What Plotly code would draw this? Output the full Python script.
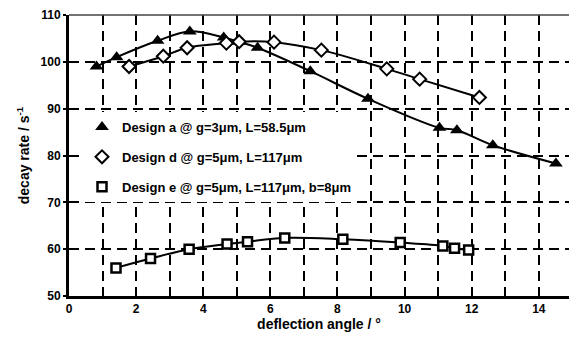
import plotly.graph_objects as go

# Design a (filled triangles)
a_x = [0.82, 1.42, 2.64, 3.6, 4.61, 5.06, 5.62, 7.19, 8.91, 11.04, 11.56, 12.63, 14.51]
a_y = [99.0, 101.0, 104.5, 106.5, 105.2, 104.3, 103.0, 98.0, 92.1, 85.9, 85.4, 82.2, 78.3]
# Design d (open diamonds)
d_x = [1.79, 2.81, 3.52, 4.69, 5.07, 6.11, 7.52, 9.47, 10.45, 12.23]
d_y = [99.0, 101.2, 103.0, 104.0, 104.3, 104.2, 102.5, 98.5, 96.3, 92.4]
# Design e (open squares)
e_x = [1.40, 2.43, 3.58, 4.71, 5.32, 6.43, 8.16, 9.87, 11.14, 11.49, 11.91]
e_y = [56.0, 58.0, 60.0, 61.1, 61.6, 62.4, 62.1, 61.4, 60.7, 60.2, 59.8]

names = ["Design a @ g=3μm, L=58.5μm",
         "Design d @ g=5μm, L=117μm",
         "Design e @ g=5μm, L=117μm, b=8μm"]

x_ticks = [0, 2, 4, 6, 8, 10, 12, 14]
y_ticks = [50, 60, 70, 80, 90, 100, 110]

font_b = "Liberation Sans, Arial, sans-serif"

series = [
    (a_x, a_y, names[0], dict(symbol="triangle-up", size=12, color="black")),
    (d_x, d_y, names[1], dict(symbol="diamond", size=10, color="white",
                              line=dict(color="black", width=2))),
    (e_x, e_y, names[2], dict(symbol="square", size=9, color="white",
                              line=dict(color="black", width=2.5))),
]

fig = go.Figure()
for i, (xs, ys, nm, mk) in enumerate(series):
    fig.add_trace(go.Scatter(x=xs, y=ys, mode="lines", showlegend=False,
                             line=dict(color="black", width=2, shape="spline", smoothing=1.0),
                             hoverinfo="skip"))
    fig.add_trace(go.Scatter(x=xs, y=ys, name=nm, mode="markers", marker=mk,
                             legendgroup="g%d" % i))

grid_dash = "10px,6px"

fig.update_layout(
    width=570, height=340,
    margin=dict(l=69, r=1, t=15, b=44),
    paper_bgcolor="white", plot_bgcolor="white",
    font=dict(family=font_b, size=12, color="black"),
    showlegend=True,
    legend=dict(x=0.026, y=0.655, xanchor="left", yanchor="top",
                bgcolor="white", borderwidth=0,
                font=dict(family=font_b, size=13, color="black", weight="bold"),
                tracegroupgap=10, itemwidth=30),
    xaxis=dict(range=[0, 14.9], tickvals=x_ticks, ticktext=[str(v) for v in x_ticks],
               showgrid=True, gridcolor="black", griddash=grid_dash, gridwidth=2,
               minor=dict(dtick=1, tick0=0, showgrid=True, gridcolor="black",
                          griddash=grid_dash, gridwidth=2),
               showline=True, linecolor="black", linewidth=3, mirror=False,
               ticks="", zeroline=False,
               tickfont=dict(family=font_b, size=12, color="black", weight="bold"),
               title=dict(text="deflection angle / °", standoff=0,
                          font=dict(family=font_b, size=14, color="black", weight="bold"))),
    yaxis=dict(range=[50, 110], tickvals=y_ticks, ticktext=[str(v) for v in y_ticks],
               showgrid=True, gridcolor="black", griddash=grid_dash, gridwidth=2,
               showline=True, linecolor="black", linewidth=3,
               ticks="outside", ticklen=3, tickwidth=2, tickcolor="black", zeroline=False,
               tickfont=dict(family=font_b, size=12, color="black", weight="bold"),
               title=dict(text="decay rate / s<sup>-1</sup>", standoff=8,
                          font=dict(family=font_b, size=14, color="black", weight="bold"))),
)
# thin top border
fig.add_shape(type="line", xref="paper", yref="paper", x0=0, x1=1, y0=1, y1=1,
              line=dict(color="#444444", width=1.5))

fig.write_html("out.html")
